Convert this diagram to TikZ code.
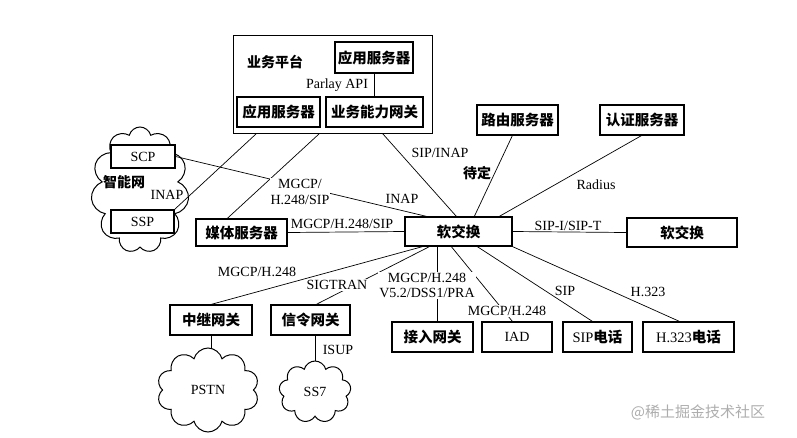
\documentclass[tikz,border=0pt]{standalone}
\usepackage{fontspec}
\setmainfont{Liberation Serif}
\newfontfamily\cjk{Noto Sans CJK SC}
\usetikzlibrary{shapes.symbols,calc}
\tikzset{
  bx/.style={draw,line width=1.3pt,fill=white,inner sep=0pt,font=\cjk\bfseries\fontsize{14.5}{15}\selectfont},
  bxl/.style={bx,font=\fontsize{14}{15}\selectfont},
  ln/.style={line width=0.7pt},
  lab/.style={inner sep=1pt,font=\fontsize{14}{16}\selectfont},
  labw/.style={lab,fill=white},
  labc/.style={inner sep=1pt,font=\cjk\bfseries\fontsize{14}{15}\selectfont},
  cl/.style={draw,cloud,cloud puffs=#1,cloud ignores aspect,line width=1pt,inner sep=0pt,font=\fontsize{14}{16}\selectfont}
}
\begin{document}
\begin{tikzpicture}[x=1pt,y=-1pt]
\useasboundingbox (0,0) rectangle (797,437);
% service platform
\node[draw,line width=1pt,minimum width=199,minimum height=98,inner sep=0pt] (plat) at (332.5,84) {};
\node[bx,minimum width=78,minimum height=31] (app1) at (374,57.5) {应用服务器};
\node[bx,minimum width=83,minimum height=30] (app2) at (278.5,112) {应用服务器};
\node[bx,minimum width=97,minimum height=30] (cap) at (374.5,112) {业务能力网关};
\node[labc] (pf) at (275,62) {业务平台};
\node[lab] (api) at (337,85) {Parlay API};
\draw[ln] (app1.south) -- (app1.south |- cap.north);
% intelligent network
\node[cl=11,minimum width=98,minimum height=126] (inet) at (140,190) {};
\node[bxl,minimum width=64,minimum height=23] (scp) at (143,156.5) {SCP};
\node[bxl,minimum width=63,minimum height=23] (ssp) at (142.5,221.5) {SSP};
\node[labc] (inl) at (124,182) {智能网};
\node[lab] (inap1) at (167,195) {INAP};
% middle row
\node[bx,minimum width=91,minimum height=27] (media) at (241.5,232.5) {媒体服务器};
\node[bx,minimum width=107,minimum height=29] (ss) at (458.5,231.5) {软交换};
\node[bx,minimum width=110,minimum height=29] (ss2) at (682,232.5) {软交换};
\node[bx,minimum width=81,minimum height=30] (route) at (517.5,120) {路由服务器};
\node[bx,minimum width=84,minimum height=30] (auth) at (642,120) {认证服务器};
% bottom row
\node[bx,minimum width=82,minimum height=30] (trunk) at (211,320) {中继网关};
\node[bx,minimum width=79,minimum height=30] (sig) at (310.5,320) {信令网关};
\node[bx,minimum width=81,minimum height=30] (ag) at (432.5,337) {接入网关};
\node[bxl,minimum width=70,minimum height=30] (iad) at (517,337) {IAD};
\node[bx,minimum width=69,minimum height=30] (sipph) at (597.5,337) {{\fontspec{Liberation Serif}\mdseries SIP}电话};
\node[bx,minimum width=91,minimum height=30] (h323) at (688.5,337) {{\fontspec{Liberation Serif}\mdseries H.323}电话};
\node[cl=10,minimum width=102,minimum height=84] (pstn) at (208,390) {PSTN};
\node[cl=9,minimum width=72,minimum height=62] (ss7) at (315,392) {SS7};
% connectors from platform
\coordinate (p1) at ($(plat.south west)+(24,0)$);
\coordinate (p2) at ($(plat.south west)+(87,0)$);
\coordinate (p3) at ($(plat.south west)+(150,0)$);
\draw[ln] (p1) -- (ssp.north east);
\draw[ln] (p2) -- ($(media.north west)+(32,0)$);
\draw[ln] (p3) -- ($(ss.north west)+(52,0)$);
\draw[ln] (scp.east) -- ($(ss.north west)+(22,0)$);
\node[labw,align=center] (l1) at (300,191.5) {MGCP/\\H.248/SIP};
\node[lab] (l2) at (402,199) {INAP};
\node[lab] (l3) at (440,153) {SIP/INAP};
\draw[ln] ($(route.south west)+(36,0)$) -- ($(ss.north west)+(70,0)$);
\draw[ln] ($(auth.south west)+(42,0)$) -- ($(ss.north west)+(95,0)$);
\node[labc] (l4) at (477,173) {待定};
\node[lab] (l5) at (596,185) {Radius};
\draw[ln] (media.east) -- (ss.west);
\node[lab] (l6) at (342,224) {MGCP/H.248/SIP};
\draw[ln] (ss.east) -- (ss2.west);
\node[lab] (l7) at (568,226) {SIP-I/SIP-T};
% connectors down
\draw[ln] ($(ss.south west)+(18,0)$) -- ($(trunk.north west)+(42,0)$);
\draw[ln] ($(ss.south west)+(25,0)$) -- ($(sig.north west)+(46,0)$);
\draw[ln] ($(ss.south west)+(33,0)$) -- ($(ag.north west)+(46,0)$);
\draw[ln] ($(ss.south west)+(47,0)$) -- ($(iad.north west)+(31,0)$);
\draw[ln] ($(ss.south west)+(73,0)$) -- ($(sipph.north west)+(30,0)$);
\draw[ln] (ss.south east) -- ($(h323.north west)+(37,0)$);
\node[lab] (l8) at (257,272) {MGCP/H.248};
\node[labw] (l9) at (337,285) {SIGTRAN};
\node[labw,align=center,font=\fontsize{14}{15}\selectfont] (l10) at (427,285.5) {MGCP/H.248\\V5.2/DSS1/PRA};
\node[labw] (l11) at (507,311) {MGCP/H.248};
\node[lab] (l12) at (565,291) {SIP};
\node[lab] (l13) at (648,292) {H.323};
\draw[ln] (trunk.south) -- (trunk.south |- pstn.north);
\draw[ln] (ss7.north |- sig.south) -- (ss7.north);
\node[lab] (l14) at (338,350) {ISUP};
% watermark
\node[inner sep=0pt,text=black!32,font=\cjk\fontsize{15}{16}\selectfont] (wm) at (698,412) {@稀土掘金技术社区};
\end{tikzpicture}
\end{document}
